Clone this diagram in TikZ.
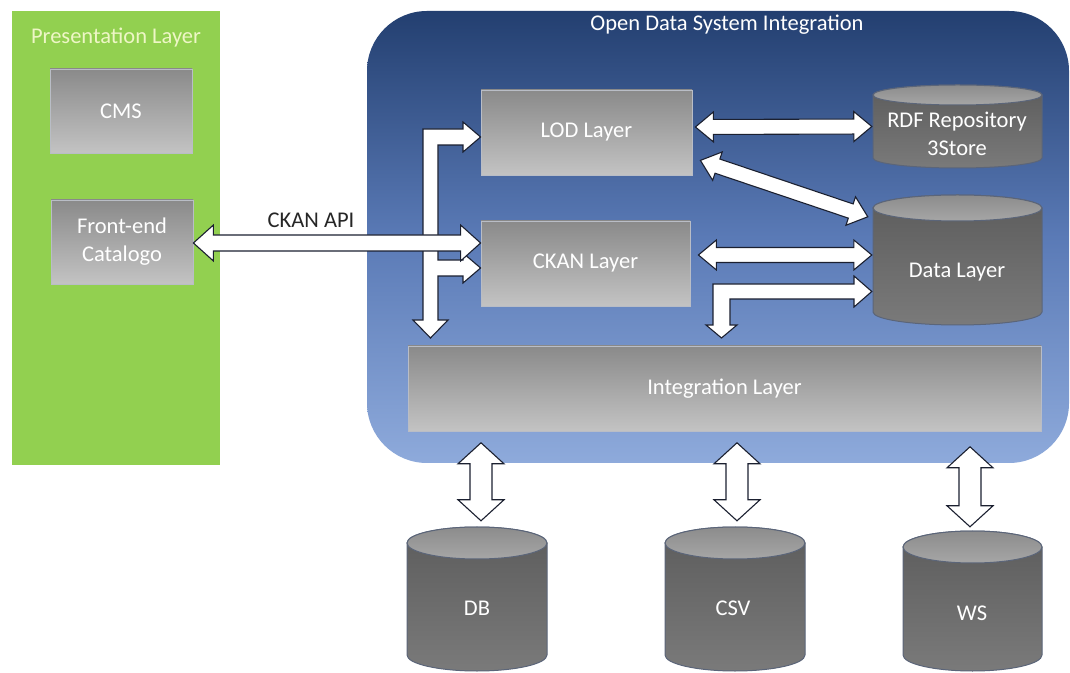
\documentclass[tikz,border=0pt]{standalone}
\usepackage{fontspec}
\setmainfont{Carlito}
\usetikzlibrary{calc}
\definecolor{pgreen}{HTML}{92D050}
\definecolor{ptitlecol}{HTML}{EEF6C6}
\definecolor{navytop}{HTML}{233F70}
\definecolor{navymid}{HTML}{5A7AB6}
\definecolor{navybot}{HTML}{8EAADB}
\definecolor{graytop}{HTML}{8A8A8A}
\definecolor{graybot}{HTML}{C3C3C3}
\definecolor{boxedge}{HTML}{B9BDC6}
\definecolor{cyltopA}{HTML}{8C8C8C}
\definecolor{cyltopB}{HTML}{A6A6A6}
\definecolor{cylbodyA}{HTML}{5C5C5C}
\definecolor{cylbodyB}{HTML}{7A7A7A}
\definecolor{cyledge}{HTML}{5B6579}
\definecolor{arrowedge}{HTML}{1B2030}
\definecolor{labeltext}{HTML}{262626}
\tikzset{
  lbl/.style={font=\fontsize{22.5}{28}\selectfont, text=white, align=center, inner sep=0pt},
  graybox/.style={draw=boxedge, line width=0.8pt, top color=graytop, bottom color=graybot},
  cylbody/.style={draw=cyledge, line width=1pt, top color=cylbodyA, bottom color=cylbodyB},
  cyltop/.style={draw=cyledge, line width=1pt, top color=cyltopA, bottom color=cyltopB},
  blockarrow/.style={fill=white, draw=arrowedge, line width=1.1pt, line join=miter},
}
% cylinder: name, left, right, top, bottom, ry
\newcommand\mycyl[6]{%
  \pgfmathsetmacro\cx{(#2+#3)/2}%
  \pgfmathsetmacro\rx{(#3-#2)/2}%
  \pgfmathsetmacro\cw{#3-#2}%
  \pgfmathsetmacro\ch{#4-#5}%
  \pgfmathsetmacro\cy{(#4+#5)/2}%
  \draw[cylbody] (#2,#4-#6) -- (#2,#5+#6)
     arc[start angle=180, end angle=360, x radius=\rx pt, y radius=#6pt]
     -- (#3,#4-#6)
     arc[start angle=0, end angle=180, x radius=\rx pt, y radius=#6pt] -- cycle;
  \draw[cyltop] (\cx,#4-#6) ellipse[x radius=\rx pt, y radius=#6pt];
  \node[inner sep=0pt, minimum width=\cw pt, minimum height=\ch pt] (#1) at (\cx,\cy) {};
}
% double block arrow: A, B, shaft half width, head half width, head length
\newcommand\dblarrow[5]{%
  \filldraw[blockarrow] (#1)
   -- ($(#1)!#5!(#2)!#4!-90:(#2)$)
   -- ($(#1)!#5!(#2)!#3!-90:(#2)$)
   -- ($(#2)!#5!(#1)!#3!90:(#1)$)
   -- ($(#2)!#5!(#1)!#4!90:(#1)$)
   -- (#2)
   -- ($(#2)!#5!(#1)!#4!-90:(#1)$)
   -- ($(#2)!#5!(#1)!#3!-90:(#1)$)
   -- ($(#1)!#5!(#2)!#3!90:(#2)$)
   -- ($(#1)!#5!(#2)!#4!90:(#2)$)
   -- cycle;}
\begin{document}
\begin{tikzpicture}[x=1pt,y=1pt]
\clip (0,0) rectangle (1070,672);
\fill[white] (0,0) rectangle (1070,672);

% Presentation layer
\node[fill=pgreen, minimum width=208pt, minimum height=454pt, inner sep=0pt] (pres) at (116,434) {};
\node[lbl, text=ptitlecol] (prestitle) at (116,634) {Presentation Layer};
\node[graybox, lbl, minimum width=142pt, minimum height=84pt] (cms) at (121,561) {CMS};
\node[graybox, lbl, minimum width=142pt, minimum height=84pt] (fe) at (122,430) {Front-end\\Catalogo};

% Open data system integration
\node[rounded corners=60pt, minimum width=702pt, minimum height=452pt, inner sep=0pt,
      top color=navytop, bottom color=navybot, middle color=navymid] (ods) at (718,435) {};
\node[lbl] (odstitle) at (727,647) {Open Data System Integration};

\node[graybox, lbl, minimum width=211pt, minimum height=85pt] (lod) at (586.5,539.5) {LOD Layer};
\node[graybox, lbl, minimum width=209pt, minimum height=85pt] (ckan) at (585.5,408.5) {CKAN Layer};
\node[graybox, lbl, minimum width=633pt, minimum height=85pt] (integ) at (724.5,283.5) {Integration Layer};

\mycyl{rdf}{873}{1042}{587}{504}{10}
\node[lbl] (rdflabel) at (957,538) {RDF Repository\\3Store};
\mycyl{data}{873}{1042}{477}{347}{13}
\node[lbl] (datalabel) at (957,400) {Data Layer};

\mycyl{db}{407}{547}{145}{1}{16}
\node[lbl] (dblabel) at (477,64) {DB};
\mycyl{csv}{665}{805}{145}{1}{16}
\node[lbl] (csvlabel) at (733,64) {CSV};
\mycyl{ws}{903}{1042}{141}{1}{16}
\node[lbl] (wslabel) at (972,59) {WS};

% connector end points
\coordinate (api1) at ($(fe.east)+(0,-1)$);
\coordinate (api2) at (ckan.west |- api1);
\coordinate (lr1) at ($(lod.east)+(3,5.5)$);
\coordinate (lr2) at ($(rdf.west)+(-1,0)$);
\coordinate (ld1) at ($(lod.south east)+(8,15)$);
\coordinate (ld2) at ($(data.north west)+(-5,-22)$);
\coordinate (cd1) at ($(ckan.east)+(8,8.5)$);
\coordinate (cd2) at ($(data.west |- cd1)+(-1,0)$);
\coordinate (dbA) at ($(db.north)+(4,84)$);
\coordinate (dbB) at ($(db.north)+(4,6)$);
\coordinate (csvA) at ($(csv.north)+(2,84)$);
\coordinate (csvB) at ($(csv.north)+(2,6)$);
\coordinate (wsA) at ($(ws.north)+(-2.5,84)$);
\coordinate (wsB) at ($(ws.north)+(-2.5,4)$);

% left tree arrow (to LOD, CKAN and Integration)
\filldraw[blockarrow] (423,543) -- (463,543) -- (463,550) -- (lod.west |- 0,535) -- (463,520) -- (463,527)
  -- (438,527) -- (438,412) -- (463,412) -- (463,419) -- (ckan.west |- 0,404) -- (463,389) -- (463,396)
  -- (438,396) -- (438,352) -- (448,352) -- (430.5,334) -- (413,352) -- (423,352) -- cycle;

% data -> integration elbow arrow
\filldraw[blockarrow] (713,388) -- (854,388) -- (854,396) -- ($(data.west)+(-1,-31.5)$) -- (854,365) -- (854,373)
  -- (730,373) -- (730,347) -- (737,347) -- (721.5,334) -- (706,347) -- (713,347) -- cycle;

% CKAN API
\dblarrow{api1}{api2}{8pt}{18pt}{20pt}
\node[font=\fontsize{22.5}{28}\selectfont, text=labeltext, inner sep=0pt] (apilabel) at (311,452) {CKAN API};

\dblarrow{lr1}{lr2}{7.5pt}{15pt}{18pt}
\dblarrow{ld1}{ld2}{7.5pt}{15pt}{18pt}
\dblarrow{cd1}{cd2}{7.5pt}{15pt}{18pt}

\dblarrow{dbA}{dbB}{11pt}{23pt}{21pt}
\dblarrow{csvA}{csvB}{11pt}{23pt}{21pt}
\dblarrow{wsA}{wsB}{11pt}{23pt}{21pt}
\end{tikzpicture}
\end{document}
